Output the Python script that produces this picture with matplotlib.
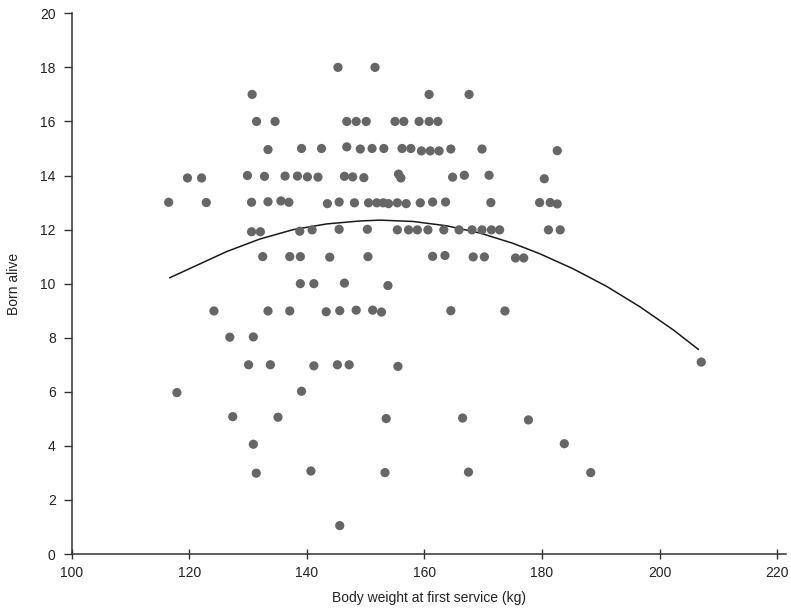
import numpy as np
import matplotlib
matplotlib.use("Agg")
import matplotlib.pyplot as plt

plt.rcParams['font.family'] = ['Liberation Sans', 'DejaVu Sans']

# body weight at first service (kg) and number born alive
weight = [
    145.3, 151.6,
    130.7, 160.8, 167.6,
    131.45, 134.6, 146.8, 148.4, 150.1, 155.0, 156.5, 159.1, 160.8, 162.3,
    133.4, 139.1, 142.5, 146.8, 149.1, 151.1, 153.1, 156.2, 157.7, 159.5, 161.0, 162.5, 164.5, 169.8, 182.6,
    119.7, 122.1, 129.9, 132.8, 136.3, 138.4, 140.1, 141.9, 146.4, 147.8, 149.7, 155.6, 156.0, 164.8, 166.8, 171.0, 180.4,
    116.5, 122.9, 130.6, 133.4, 135.6, 136.95, 143.5, 145.5, 148.1, 150.5, 151.9, 153.0, 153.9, 155.4, 156.9,
    159.3, 161.4, 163.6, 171.3, 179.6, 181.4, 182.6,
    130.6, 132.1, 138.8, 140.9, 145.5, 150.3, 155.4, 157.3, 158.8, 160.6, 163.3, 165.9, 168.1, 169.8, 171.4,
    172.8, 181.1, 183.1,
    132.5, 137.1, 138.9, 143.9, 150.4, 161.4, 163.5, 168.3, 170.2, 175.5, 176.9,
    138.9, 141.2, 146.4, 153.8,
    124.2, 133.4, 137.1, 143.3, 145.6, 148.4, 151.2, 152.7, 164.5, 173.7,
    126.9, 130.9,
    130.1, 133.8, 141.2, 145.2, 147.2, 155.5, 207.1,
    117.9, 139.1,
    127.4, 135.1, 153.5, 166.5, 177.7,
    130.9, 183.8,
    131.4, 140.7, 153.3, 167.5, 188.3,
    145.6,
]
born_alive = [
    18.0, 18.0,
    17.0, 17.0, 17.0,
    16.0, 16.0, 16.0, 16.0, 16.0, 16.0, 16.0, 16.0, 16.0, 16.0,
    14.96, 15.0, 15.0, 15.06, 14.98, 15.0, 15.0, 15.0, 15.0, 14.91, 14.91, 14.91, 14.98, 14.98, 14.92,
    13.91, 13.91, 14.0, 13.97, 13.98, 13.98, 13.95, 13.94, 13.97, 13.95, 13.92, 14.05, 13.91, 13.94, 14.01, 14.01, 13.88,
    13.01, 13.0, 13.01, 13.03, 13.06, 13.01, 12.96, 13.02, 12.99, 12.99, 12.99, 12.99, 12.96, 12.99, 12.96,
    12.99, 13.02, 13.02, 13.0, 13.0, 13.0, 12.95,
    11.92, 11.92, 11.94, 11.99, 12.01, 12.01, 11.99, 11.99, 11.99, 11.99, 11.99, 11.99, 11.99, 11.99, 11.99,
    11.99, 11.99, 11.99,
    11.0, 11.0, 11.0, 10.98, 11.0, 11.01, 11.04, 10.99, 10.99, 10.95, 10.95,
    10.0, 10.0, 10.02, 9.93,
    8.99, 8.99, 8.99, 8.96, 9.0, 9.02, 9.02, 8.95, 9.0, 8.99,
    8.02, 8.03,
    7.0, 7.0, 6.96, 7.0, 7.0, 6.94, 7.1,
    5.97, 6.02,
    5.08, 5.06, 5.01, 5.03, 4.96,
    4.06, 4.08,
    2.99, 3.07, 3.01, 3.03, 3.01,
    1.05,
]

# trend curve
trend_x = [116.7, 120.7, 126.4, 132.0, 137.7, 143.4, 149.1, 152.5, 158.1,
           163.8, 169.5, 175.1, 179.7, 185.3, 191.0, 196.7, 202.4, 206.6]
trend_y = [10.22, 10.62, 11.19, 11.65, 12.0, 12.21, 12.32, 12.35, 12.30,
           12.14, 11.87, 11.49, 11.10, 10.55, 9.90, 9.14, 8.28, 7.57]

x_ticks = [100, 120, 140, 160, 180, 200, 220]
y_ticks = [0, 2, 4, 6, 8, 10, 12, 14, 16, 18, 20]

fig = plt.figure(figsize=(7.91, 6.08), dpi=100)
ax = fig.add_axes([0.0906, 0.0888, 0.903, 0.8893])

ax.scatter(weight, born_alive, s=44, color='#666666', edgecolors='none', zorder=3)
ax.plot(trend_x, trend_y, color='#1a1a1a', lw=1.1, zorder=2)

ax.set_xlim(100, 221.5)
ax.set_ylim(0, 20)
ax.set_xticks(x_ticks)
ax.set_yticks(y_ticks)

for s in ['top', 'right']:
    ax.spines[s].set_visible(False)
for s in ['left', 'bottom']:
    ax.spines[s].set_color('#333333')
    ax.spines[s].set_linewidth(1.1)

ax.tick_params(axis='y', direction='out', length=5.5, width=1.0, color='#333333',
               labelsize=10, labelcolor='#222222', pad=6)
ax.tick_params(axis='x', direction='inout', length=7, width=1.0, color='#333333',
               labelsize=10, labelcolor='#222222', pad=5)

ax.set_xlabel('Body weight at first service (kg)', fontsize=10, color='#222222', labelpad=8)
ax.set_ylabel('Born alive', fontsize=10, color='#222222', labelpad=14)

fig.savefig('out.png', dpi=100)
